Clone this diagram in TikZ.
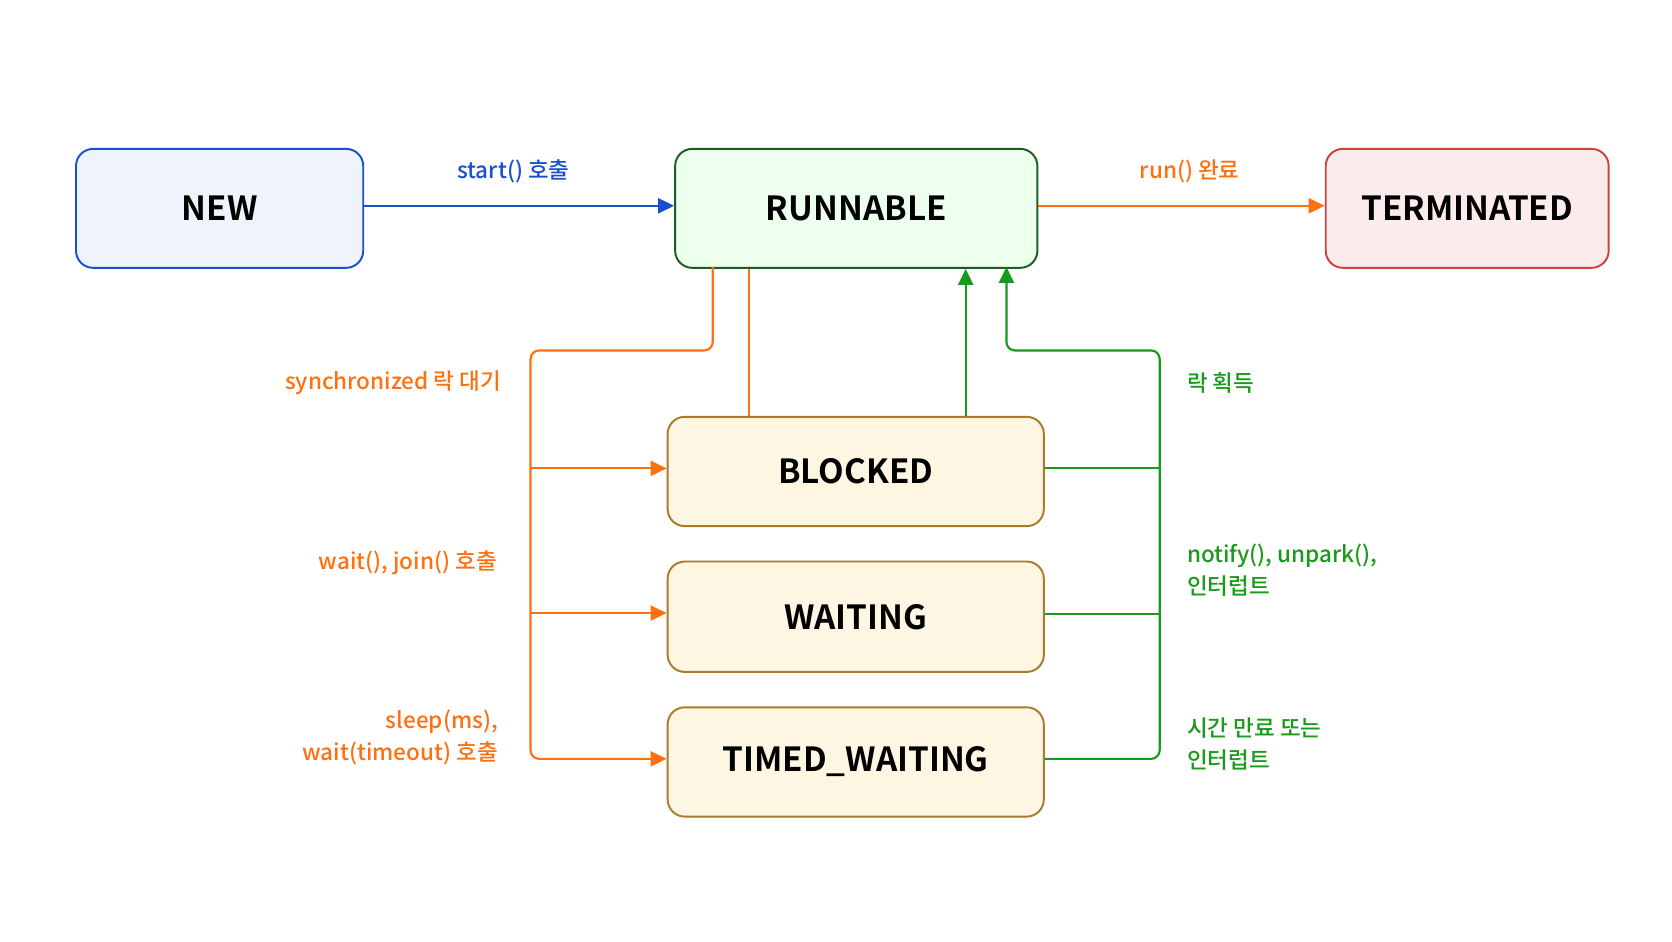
\documentclass[tikz,border=0pt]{standalone}
\usepackage{fontspec}
\setmainfont{Noto Sans CJK KR}[BoldFont={* Bold}]
\newfontfamily\medf{Noto Sans CJK KR Medium}
\usetikzlibrary{arrows.meta}
\definecolor{cblue}{HTML}{1A4FD0}
\definecolor{corange}{HTML}{FF7010}
\definecolor{cgreen}{HTML}{1A9A1A}
\definecolor{cdgreen}{HTML}{1B5E20}
\definecolor{cred}{HTML}{D04040}
\definecolor{cgold}{HTML}{A87C28}
\definecolor{cream}{HTML}{FDF6E2}
\tikzset{
 state/.style={draw,rounded corners=16pt,line width=1.8pt,font=\fontsize{31}{34}\selectfont\bfseries,anchor=north west,inner sep=0pt},
 lbl/.style={font=\medf\fontsize{21}{30}\selectfont,align=left},
 conn/.style={line width=2pt,rounded corners=8pt},
 arr/.style={-{Triangle[length=15pt,width=14pt]}},
}
\begin{document}
\begin{tikzpicture}[x=1pt,y=-1pt]
\useasboundingbox[fill=white] (0,0) rectangle (1560,878);
\node[state,draw=cblue,fill=cblue!7,minimum width=268pt,minimum height=111pt] (new) at (70,138) {NEW};
\node[state,draw=cdgreen,fill=green!7,minimum width=338pt,minimum height=111pt] (run) at (629,138) {RUNNABLE};
\node[state,draw=cred,fill=cred!10,minimum width=264pt,minimum height=111pt] (term) at (1236,138) {TERMINATED};
\node[state,draw=cgold,fill=cream,minimum width=351pt,minimum height=102pt] (blk) at (622,388) {BLOCKED};
\node[state,draw=cgold,fill=cream,minimum width=351pt,minimum height=103pt] (wt) at (622,523) {WAITING};
\node[state,draw=cgold,fill=cream,minimum width=351pt,minimum height=102pt] (tw) at (622,659) {TIMED\_WAITING};
% top arrows
\draw[conn,cblue,arr] (new.east |- 0,192) -- (run.west |- 0,192);
\node[lbl,text=cblue] (l1) at (479,160) {start() 호출};
\draw[conn,corange,arr] (run.east |- 0,192) -- (term.west |- 0,192);
\node[lbl,text=corange] (l2) at (1110,160) {run() 완료};
% orange
\coordinate (o1) at (665,249);
\draw[conn,corange,arr] (o1) -- (665,327) -- (495,327) -- (495,708) -- (tw.west |- 0,708);
\draw[conn,corange,arr] (495,437) -- (blk.west |- 0,437);
\draw[conn,corange,arr] (495,572) -- (wt.west |- 0,572);
\draw[conn,corange] (blk.north -| 699,0) -- (run.south -| 699,0);
% green
\draw[conn,cgreen,arr] (blk.north -| 901,0) -- (run.south -| 901,0);
\coordinate (g1) at (939,249);
\draw[conn,cgreen,arr] (tw.east |- 0,708) -- (1082,708) -- (1082,327) -- (939,327) -- (g1);
\draw[conn,cgreen] (blk.east |- 0,437) -- (1082,437);
\draw[conn,cgreen] (wt.east |- 0,573) -- (1082,573);
% labels
\node[lbl,text=corange,anchor=east] (l3) at (471,357) {synchronized 락 대기};
\node[lbl,text=corange,anchor=east] (l4) at (467,525) {wait(), join() 호출};
\node[lbl,text=corange,anchor=east,align=right] (l5) at (468,688) {sleep(ms),\\wait(timeout) 호출};
\node[lbl,text=cgreen,anchor=west] (l6) at (1104,357) {락 획득};
\node[lbl,text=cgreen,anchor=west] (l7) at (1104,532) {notify(), unpark(),\\인터럽트};
\node[lbl,text=cgreen,anchor=west] (l8) at (1104,694) {시간 만료 또는\\인터럽트};
\end{tikzpicture}
\end{document}
